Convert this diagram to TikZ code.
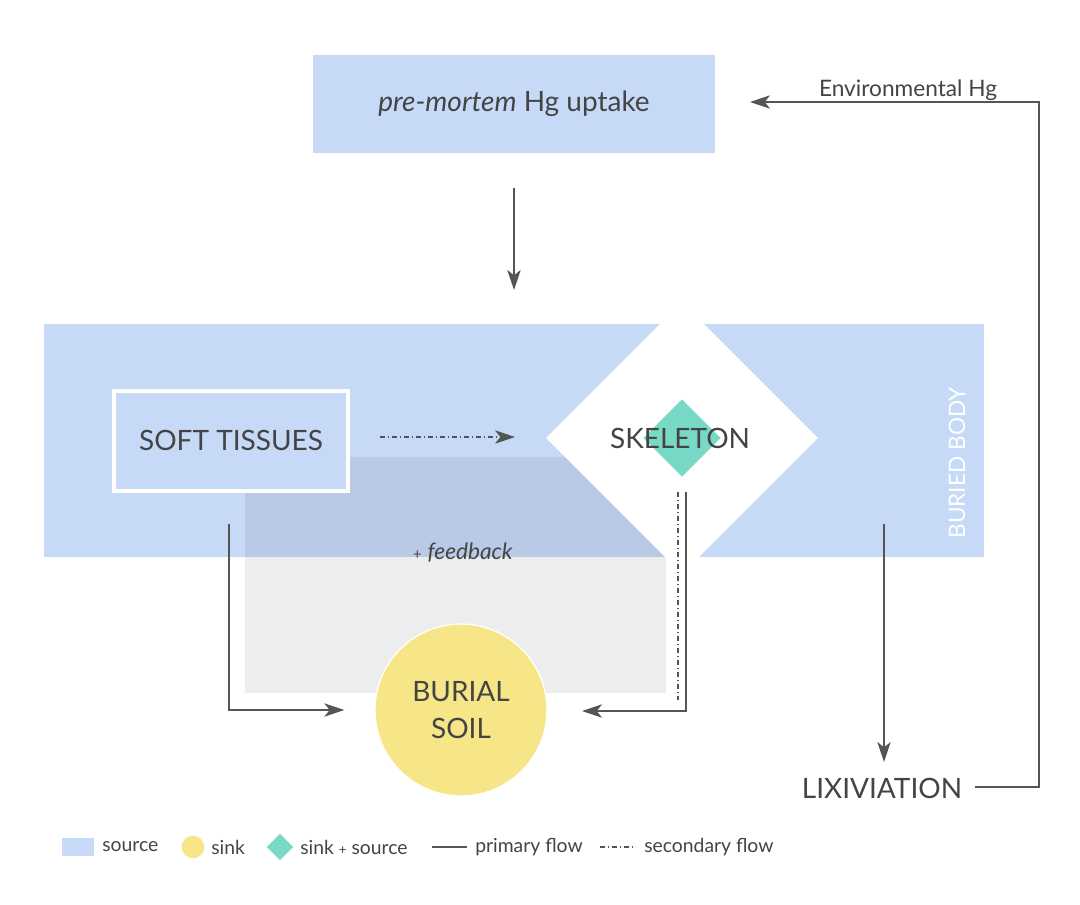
\documentclass[tikz,border=0pt]{standalone}
\usepackage{fontspec}
\setmainfont{Lato}
\usetikzlibrary{arrows.meta,shapes.geometric,calc}
\definecolor{srcblue}{HTML}{C6DAF7}
\definecolor{sinkyellow}{HTML}{F6E687}
\definecolor{skteal}{HTML}{78D9C6}
\definecolor{ink}{HTML}{444444}
\definecolor{lineg}{HTML}{555555}
\begin{document}
\begin{tikzpicture}[x=0.75pt,y=-0.75pt,
  every node/.style={text=ink, inner sep=0pt},
  biglabel/.style={font=\fontsize{21}{24}\selectfont},
  smalllabel/.style={font=\fontsize{17}{20}\selectfont},
  legendlabel/.style={font=\fontsize{14.5}{17}\selectfont, anchor=west},
  tip/.style={-{Stealth[length=15pt,width=10pt,inset=4pt]}},
  flow/.style={draw=lineg, line width=1.1pt},
  secflow/.style={draw=lineg, line width=1pt, dash pattern=on 4pt off 2pt on 1pt off 2pt}]
\useasboundingbox (0,0) rectangle (1080,904);
\fill[white] (0,0) rectangle (1080,904);
% top box
\node[fill=srcblue, minimum width=301.5pt, minimum height=73.5pt, biglabel] (pm) at (514,104) {\textit{pre-mortem} Hg uptake};
% body band
\node[fill=srcblue, minimum width=705pt, minimum height=174.75pt] (body) at (514,440.5) {};
% feedback grey area
\fill[black, fill opacity=0.07] (245,457) rectangle (666,693);
% white diamond
\node[diamond, aspect=1, fill=white, minimum width=204pt, minimum height=204pt] (skw) at (682,438) {};
% teal diamond
\node[diamond, aspect=1, fill=skteal, minimum width=58pt, minimum height=58pt] (skt) at (682,438) {};
\node[biglabel] (skel) at (680,438) {SKELETON};
% soft tissues
\node[fill=srcblue, draw=white, line width=3pt, minimum width=175pt, minimum height=75pt, biglabel] (st) at (231,440.5) {SOFT TISSUES};
% buried body label
\node[rotate=90, text=white, smalllabel] (bb) at (957,463) {BURIED BODY};
% feedback
\node[smalllabel] (fb) at (463,553) {{\fontsize{11}{12}\selectfont+} \textit{feedback}};
% burial soil
\node[circle, fill=sinkyellow, draw=white, line width=1pt, minimum size=129pt, align=center, biglabel] (soil) at (461,710) {BURIAL\\[4pt]SOIL};
% lixiviation
\node[biglabel] (lix) at (882,788) {LIXIVIATION};
\node[smalllabel] (env) at (908,90) {Environmental Hg};
% connectors
\coordinate (pmout) at ($(pm.south)+(0,-26.25pt)$);
\coordinate (bodyin) at (514,290);
\draw[flow,tip] (pmout) -- (bodyin);
\coordinate (stout) at (380,437);
\coordinate (skin) at (515,437);
\draw[secflow,tip] (stout) -- (skin);
\coordinate (stdown) at (229,524);
\coordinate (soilw) at ($(soil.west)+(-22.5pt,0)$);
\draw[flow,tip] (stdown) |- (soilw);
\coordinate (skdown) at (686,492);
\coordinate (soile) at (582,711);
\draw[flow,tip] (skdown) |- (soile);
\coordinate (skdown2) at (678,492);
\coordinate (skdown2e) at (678,700);
\draw[secflow] (skdown2) -- (skdown2e);
\coordinate (bodydown) at (884,524);
\coordinate (lixin) at (884,762);
\draw[flow,tip] (bodydown) -- (lixin);
\coordinate (lixout) at (975,787);
\coordinate (corner1) at (1039,787);
\coordinate (corner2) at (1039,102);
\coordinate (pmin) at (750,102);
\draw[flow,tip] (lixout) -- (corner1) -- (corner2) -- (pmin);
% legend
\node[fill=srcblue, minimum width=24pt, minimum height=13.5pt] (lg1) at (78,847) {};
\node[legendlabel] (lt1) at (102,847) {source};
\node[circle, fill=sinkyellow, minimum size=17pt] (lg2) at (193,847) {};
\node[legendlabel] (lt2) at (211,847) {sink};
\node[diamond, aspect=1, fill=skteal, minimum width=20pt, minimum height=20pt] (lg3) at (280,847) {};
\node[legendlabel] (lt3) at (300,847) {sink {\fontsize{10}{11}\selectfont+} source};
\coordinate (lg4a) at (432,847);
\coordinate (lg4b) at (467,847);
\draw[flow] (lg4a) -- (lg4b);
\node[legendlabel] (lt4) at (475,847) {primary flow};
\coordinate (lg5a) at (600,847);
\coordinate (lg5b) at (636,847);
\draw[secflow] (lg5a) -- (lg5b);
\node[legendlabel] (lt5) at (644,847) {secondary flow};
\end{tikzpicture}
\end{document}
